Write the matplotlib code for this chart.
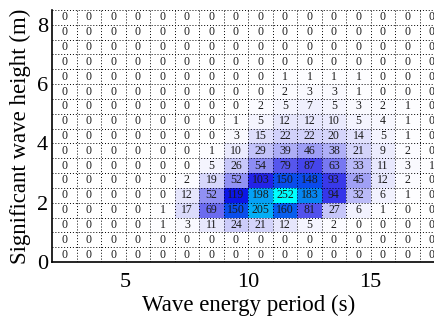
import numpy as np
import matplotlib
matplotlib.use('Agg')
import matplotlib.pyplot as plt
from matplotlib.colors import LinearSegmentedColormap

# bin edges of the scatter table
te_edges = np.arange(2, 19, 1.0)      # energy period (s)
hs_edges = np.arange(0, 9.0, 0.5)     # wave height (m)

# occurrence counts, rows from Hs = 0-0.5 m upwards, columns Te = 2-3 s ...
counts = [
    [0, 0, 0, 0, 0, 0, 0, 0, 0, 0, 0, 0, 0, 0, 0, 0],
    [0, 0, 0, 0, 0, 0, 0, 0, 0, 0, 0, 0, 0, 0, 0, 0],
    [0, 0, 0, 0, 1, 3, 11, 24, 21, 12, 5, 2, 0, 0, 0, 0],
    [0, 0, 0, 0, 1, 17, 69, 150, 205, 160, 81, 27, 6, 1, 0, 0],
    [0, 0, 0, 0, 0, 12, 52, 119, 198, 252, 183, 94, 32, 6, 1, 0],
    [0, 0, 0, 0, 0, 2, 19, 52, 103, 150, 148, 93, 45, 12, 2, 0],
    [0, 0, 0, 0, 0, 0, 5, 26, 54, 79, 87, 63, 33, 11, 3, 1],
    [0, 0, 0, 0, 0, 0, 1, 10, 29, 39, 46, 38, 21, 9, 2, 0],
    [0, 0, 0, 0, 0, 0, 0, 3, 15, 22, 22, 20, 14, 5, 1, 0],
    [0, 0, 0, 0, 0, 0, 0, 1, 5, 12, 12, 10, 5, 4, 1, 0],
    [0, 0, 0, 0, 0, 0, 0, 0, 2, 5, 7, 5, 3, 2, 1, 0],
    [0, 0, 0, 0, 0, 0, 0, 0, 0, 2, 3, 3, 1, 0, 0, 0],
    [0, 0, 0, 0, 0, 0, 0, 0, 0, 1, 1, 1, 1, 0, 0, 0],
    [0, 0, 0, 0, 0, 0, 0, 0, 0, 0, 0, 0, 0, 0, 0, 0],
    [0, 0, 0, 0, 0, 0, 0, 0, 0, 0, 0, 0, 0, 0, 0, 0],
    [0, 0, 0, 0, 0, 0, 0, 0, 0, 0, 0, 0, 0, 0, 0, 0],
    [0, 0, 0, 0, 0, 0, 0, 0, 0, 0, 0, 0, 0, 0, 0, 0],
]

plt.rcParams['font.family'] = ['Liberation Serif', 'DejaVu Serif']

cmap = LinearSegmentedColormap.from_list(
    'wb', [(0.0, (1, 1, 1)), (0.45, (0.05, 0.05, 0.9)), (1.0, (0, 1, 1))])

C = np.array(counts)
fig = plt.figure(figsize=(4.35, 3.2), dpi=100)
ax = fig.add_axes([0.12, 0.181, 0.901, 0.788])
ax.pcolormesh(te_edges, hs_edges, C, cmap=cmap, vmin=0, vmax=C.max())

xc = (te_edges[:-1] + te_edges[1:]) / 2
yc = (hs_edges[:-1] + hs_edges[1:]) / 2
for i in range(len(yc)):
    for j in range(len(xc)):
        ax.text(xc[j], yc[i], str(C[i, j]), ha='center', va='center',
                fontsize=8.5, color='#1a1a1a')

# dotted cell borders
for x in te_edges[1:]:
    ax.axvline(x, color='k', linewidth=0.7, linestyle=(0, (1, 2)), zorder=2)
for y in hs_edges[1:]:
    ax.axhline(y, color='k', linewidth=0.7, linestyle=(0, (1, 2)), zorder=2,
               clip_on=False)

ax.set_xticks([5, 10, 15])
ax.set_yticks([0, 2, 4, 6, 8])
ax.tick_params(which='both', direction='in', length=0, labelsize=16)
ax.tick_params(axis='x', pad=8)
ax.tick_params(axis='y', pad=3)
ax.set_xlim(2, 18)
ax.set_ylim(0, 8.5)
ax.spines['top'].set_visible(False)
ax.spines['right'].set_visible(False)
ax.spines['left'].set_linewidth(1.2)
ax.spines['bottom'].set_linewidth(1.2)
ax.set_xlabel('Wave energy period (s)', fontsize=16.5, labelpad=2)
ax.set_ylabel('Significant wave height (m)', fontsize=16.5, labelpad=4)

fig.savefig('out.png', dpi=100)
